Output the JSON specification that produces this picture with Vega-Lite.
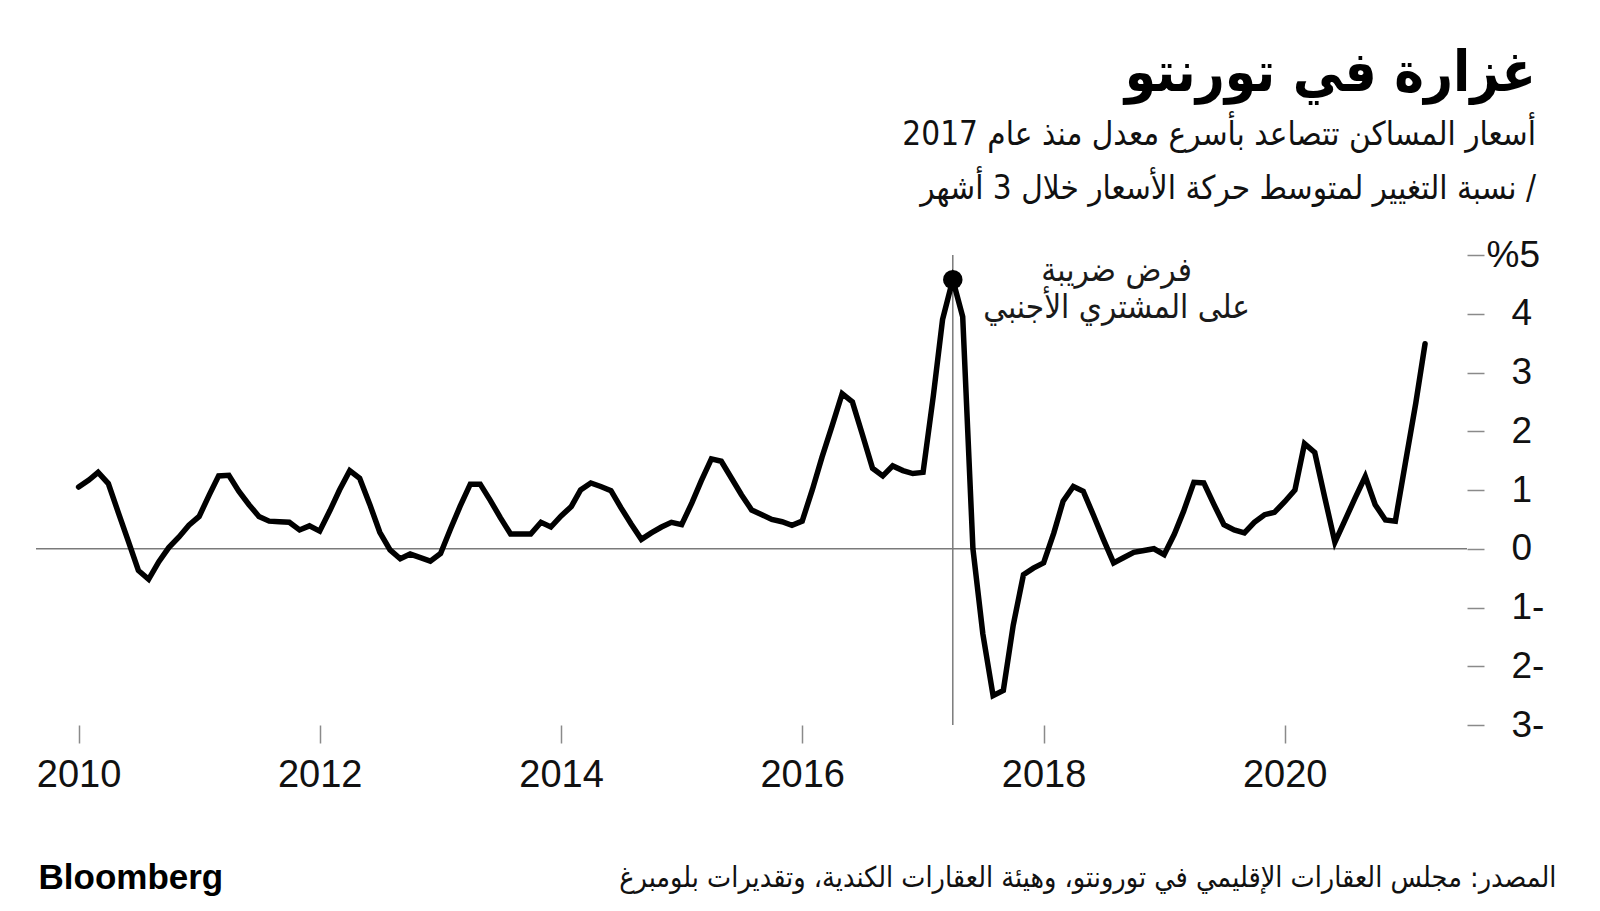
{
  "$schema": "https://vega.github.io/schema/vega-lite/v6.json",
  "width": 1431,
  "height": 470,
  "autosize": {"type": "none"},
  "padding": {"left": 36, "top": 255, "right": 133, "bottom": 186},
  "background": "white",
  "config": {"view": {"stroke": null}, "font": "DejaVu Sans Condensed"},
  "title": {
    "text": "غزارة في تورنتو",
    "subtitle": ["أسعار المساكن تتصاعد بأسرع معدل منذ عام 2017", "نسبة التغيير لمتوسط حركة الأسعار خلال 3 أشهر  /"],
    "anchor": "end",
    "frame": "group",
    "dx": 69,
    "offset": 29,
    "font": "DejaVu Sans Condensed",
    "fontSize": 56,
    "fontWeight": "bold",
    "color": "#000000",
    "subtitleFont": "DejaVu Sans Condensed",
    "subtitleFontSize": 33,
    "subtitleColor": "#111111",
    "subtitleLineHeight": 54,
    "subtitlePadding": 16
  },
  "data": {
    "values": [
      {"date": "2010-01-01", "value": 1.05}, {"date": "2010-02-01", "value": 1.17}, {"date": "2010-03-01", "value": 1.30}, {"date": "2010-04-01", "value": 1.11},
      {"date": "2010-05-01", "value": 0.62}, {"date": "2010-06-01", "value": 0.12}, {"date": "2010-07-01", "value": -0.37}, {"date": "2010-08-01", "value": -0.52},
      {"date": "2010-09-01", "value": -0.22}, {"date": "2010-10-01", "value": 0.02}, {"date": "2010-11-01", "value": 0.20}, {"date": "2010-12-01", "value": 0.40},
      {"date": "2011-01-01", "value": 0.55}, {"date": "2011-02-01", "value": 0.92}, {"date": "2011-03-01", "value": 1.24}, {"date": "2011-04-01", "value": 1.25},
      {"date": "2011-05-01", "value": 0.98}, {"date": "2011-06-01", "value": 0.75}, {"date": "2011-07-01", "value": 0.55}, {"date": "2011-08-01", "value": 0.47},
      {"date": "2011-09-01", "value": 0.46}, {"date": "2011-10-01", "value": 0.45}, {"date": "2011-11-01", "value": 0.32}, {"date": "2011-12-01", "value": 0.39},
      {"date": "2012-01-01", "value": 0.30}, {"date": "2012-02-01", "value": 0.65}, {"date": "2012-03-01", "value": 1.00}, {"date": "2012-04-01", "value": 1.33},
      {"date": "2012-05-01", "value": 1.20}, {"date": "2012-06-01", "value": 0.75}, {"date": "2012-07-01", "value": 0.28}, {"date": "2012-08-01", "value": -0.02},
      {"date": "2012-09-01", "value": -0.17}, {"date": "2012-10-01", "value": -0.09}, {"date": "2012-11-01", "value": -0.15}, {"date": "2012-12-01", "value": -0.21},
      {"date": "2013-01-01", "value": -0.08}, {"date": "2013-02-01", "value": 0.35}, {"date": "2013-03-01", "value": 0.72}, {"date": "2013-04-01", "value": 1.10},
      {"date": "2013-05-01", "value": 1.10}, {"date": "2013-06-01", "value": 0.82}, {"date": "2013-07-01", "value": 0.53}, {"date": "2013-08-01", "value": 0.25},
      {"date": "2013-09-01", "value": 0.25}, {"date": "2013-10-01", "value": 0.25}, {"date": "2013-11-01", "value": 0.45}, {"date": "2013-12-01", "value": 0.37},
      {"date": "2014-01-01", "value": 0.56}, {"date": "2014-02-01", "value": 0.72}, {"date": "2014-03-01", "value": 1.00}, {"date": "2014-04-01", "value": 1.12},
      {"date": "2014-05-01", "value": 1.06}, {"date": "2014-06-01", "value": 0.99}, {"date": "2014-07-01", "value": 0.70}, {"date": "2014-08-01", "value": 0.42},
      {"date": "2014-09-01", "value": 0.16}, {"date": "2014-10-01", "value": 0.27}, {"date": "2014-11-01", "value": 0.37}, {"date": "2014-12-01", "value": 0.45},
      {"date": "2015-01-01", "value": 0.41}, {"date": "2015-02-01", "value": 0.78}, {"date": "2015-03-01", "value": 1.15}, {"date": "2015-04-01", "value": 1.53},
      {"date": "2015-05-01", "value": 1.49}, {"date": "2015-06-01", "value": 1.20}, {"date": "2015-07-01", "value": 0.92}, {"date": "2015-08-01", "value": 0.66},
      {"date": "2015-09-01", "value": 0.58}, {"date": "2015-10-01", "value": 0.50}, {"date": "2015-11-01", "value": 0.46}, {"date": "2015-12-01", "value": 0.40},
      {"date": "2016-01-01", "value": 0.47}, {"date": "2016-02-01", "value": 1.01}, {"date": "2016-03-01", "value": 1.56}, {"date": "2016-04-01", "value": 2.10},
      {"date": "2016-05-01", "value": 2.64}, {"date": "2016-06-01", "value": 2.50}, {"date": "2016-07-01", "value": 1.95}, {"date": "2016-08-01", "value": 1.37},
      {"date": "2016-09-01", "value": 1.24}, {"date": "2016-10-01", "value": 1.41}, {"date": "2016-11-01", "value": 1.33}, {"date": "2016-12-01", "value": 1.28},
      {"date": "2017-01-01", "value": 1.30}, {"date": "2017-02-01", "value": 2.60}, {"date": "2017-03-01", "value": 3.90}, {"date": "2017-04-01", "value": 4.58},
      {"date": "2017-05-01", "value": 3.95}, {"date": "2017-06-01", "value": 0.00}, {"date": "2017-07-01", "value": -1.45}, {"date": "2017-08-01", "value": -2.50},
      {"date": "2017-09-01", "value": -2.41}, {"date": "2017-10-01", "value": -1.30}, {"date": "2017-11-01", "value": -0.44}, {"date": "2017-12-01", "value": -0.33},
      {"date": "2018-01-01", "value": -0.24}, {"date": "2018-02-01", "value": 0.27}, {"date": "2018-03-01", "value": 0.81}, {"date": "2018-04-01", "value": 1.06},
      {"date": "2018-05-01", "value": 0.98}, {"date": "2018-06-01", "value": 0.57}, {"date": "2018-07-01", "value": 0.16}, {"date": "2018-08-01", "value": -0.24},
      {"date": "2018-09-01", "value": -0.15}, {"date": "2018-10-01", "value": -0.06}, {"date": "2018-11-01", "value": -0.03}, {"date": "2018-12-01", "value": 0.00},
      {"date": "2019-01-01", "value": -0.10}, {"date": "2019-02-01", "value": 0.25}, {"date": "2019-03-01", "value": 0.64}, {"date": "2019-04-01", "value": 1.13},
      {"date": "2019-05-01", "value": 1.12}, {"date": "2019-06-01", "value": 0.75}, {"date": "2019-07-01", "value": 0.41}, {"date": "2019-08-01", "value": 0.32},
      {"date": "2019-09-01", "value": 0.27}, {"date": "2019-10-01", "value": 0.45}, {"date": "2019-11-01", "value": 0.58}, {"date": "2019-12-01", "value": 0.62},
      {"date": "2020-01-01", "value": 0.80}, {"date": "2020-02-01", "value": 1.00}, {"date": "2020-03-01", "value": 1.79}, {"date": "2020-04-01", "value": 1.64},
      {"date": "2020-05-01", "value": 0.88}, {"date": "2020-06-01", "value": 0.11}, {"date": "2020-07-01", "value": 0.48}, {"date": "2020-08-01", "value": 0.86},
      {"date": "2020-09-01", "value": 1.23}, {"date": "2020-10-01", "value": 0.75}, {"date": "2020-11-01", "value": 0.49}, {"date": "2020-12-01", "value": 0.47},
      {"date": "2021-01-01", "value": 1.48}, {"date": "2021-02-01", "value": 2.48}, {"date": "2021-03-01", "value": 3.49}
    ]
  },
  "layer": [
    {
      "data": {"values": [{"label": "zero"}]},
      "mark": {"type": "rule", "color": "#7a7a7a", "strokeWidth": 1.5},
      "encoding": {
        "y": {"datum": 0, "type": "quantitative", "scale": {"domain": [-3, 5], "nice": false, "zero": false}}
      }
    },
    {
      "data": {"values": [{"label": "tax"}]},
      "mark": {"type": "rule", "color": "#7a7a7a", "strokeWidth": 1.5},
      "encoding": {
        "x": {"datum": {"year": 2017, "month": 4, "date": 1, "utc": true}, "type": "temporal",
              "scale": {"type": "utc", "domain": [{"year": 2009, "month": 8, "date": 25, "utc": true}, {"year": 2021, "month": 7, "date": 6, "utc": true}]}},
        "y": {"datum": 5, "type": "quantitative", "scale": {"domain": [-3, 5], "nice": false, "zero": false}},
        "y2": {"datum": -3}
      }
    },
    {
      "mark": {"type": "line", "color": "#000000", "strokeWidth": 5.5, "strokeJoin": "miter", "strokeMiterLimit": 4, "strokeCap": "round"},
      "encoding": {
        "x": {
          "field": "date", "type": "temporal",
          "scale": {"type": "utc", "domain": [{"year": 2009, "month": 8, "date": 25, "utc": true}, {"year": 2021, "month": 7, "date": 6, "utc": true}]},
          "axis": {
            "values": [{"year": 2010, "utc": true}, {"year": 2012, "utc": true}, {"year": 2014, "utc": true}, {"year": 2016, "utc": true}, {"year": 2018, "utc": true}, {"year": 2020, "utc": true}],
            "format": "%Y", "formatType": "utc",
            "domain": false, "grid": false,
            "tickSize": 18, "tickColor": "#8a8a8a", "tickWidth": 1.5,
            "labelFont": "Liberation Sans", "labelFontSize": 38, "labelColor": "#111111", "labelPadding": 13,
            "title": "المصدر: مجلس العقارات الإقليمي في تورونتو، وهيئة العقارات الكندية، وتقديرات بلومبرغ",
            "titleX": 1520, "titleY": 152, "titleAlign": "right", "titleBaseline": "middle", "titleAnchor": null,
            "titleFont": "DejaVu Sans Condensed", "titleFontSize": 28.5, "titleFontWeight": "normal", "titleColor": "#111111"
          }
        },
        "y": {
          "field": "value", "type": "quantitative",
          "scale": {"domain": [-3, 5], "nice": false, "zero": false},
          "axis": {
            "orient": "right",
            "values": [-3, -2, -1, 0, 1, 2, 3, 4, 5],
            "labelExpr": "datum.value == 5 ? '%5' : (datum.value < 0 ? (-datum.value) + '-' : datum.value + '')",
            "domain": false, "grid": false,
            "tickSize": 17, "tickColor": "#8a8a8a", "tickWidth": 1.5,
            "labelAlign": "left", "labelBaseline": "middle",
            "labelPadding": {"condition": {"test": "datum.value == 5", "value": 2}, "value": 27},
            "labelFont": "Liberation Sans", "labelFontSize": 37, "labelColor": "#111111",
            "title": "Bloomberg",
            "titleAngle": 0, "titleX": -1429, "titleY": 622, "titleAlign": "left", "titleBaseline": "middle", "titleAnchor": null,
            "titleFont": "Liberation Sans", "titleFontSize": 35, "titleFontWeight": "bold", "titleColor": "#000000"
          }
        }
      }
    },
    {
      "transform": [{"filter": "datum.value > 4.5"}],
      "mark": {"type": "point", "filled": true, "shape": "circle", "size": 380, "color": "#000000", "opacity": 1},
      "encoding": {
        "x": {"field": "date", "type": "temporal",
              "scale": {"type": "utc", "domain": [{"year": 2009, "month": 8, "date": 25, "utc": true}, {"year": 2021, "month": 7, "date": 6, "utc": true}]}},
        "y": {"field": "value", "type": "quantitative", "scale": {"domain": [-3, 5], "nice": false, "zero": false}}
      }
    },
    {
      "data": {"values": [{"label": "note"}]},
      "mark": {"type": "text", "font": "DejaVu Sans Condensed", "fontSize": 33, "align": "center", "baseline": "middle", "lineHeight": 37, "color": "#1a1a1a"},
      "encoding": {
        "x": {"datum": {"year": 2018, "month": 8, "date": 10, "utc": true}, "type": "temporal",
              "scale": {"type": "utc", "domain": [{"year": 2009, "month": 8, "date": 25, "utc": true}, {"year": 2021, "month": 7, "date": 6, "utc": true}]}},
        "y": {"datum": 4.72, "type": "quantitative", "scale": {"domain": [-3, 5], "nice": false, "zero": false}},
        "text": {"value": ["فرض ضريبة", "على المشتري الأجنبي"]}
      }
    }
  ]
}
